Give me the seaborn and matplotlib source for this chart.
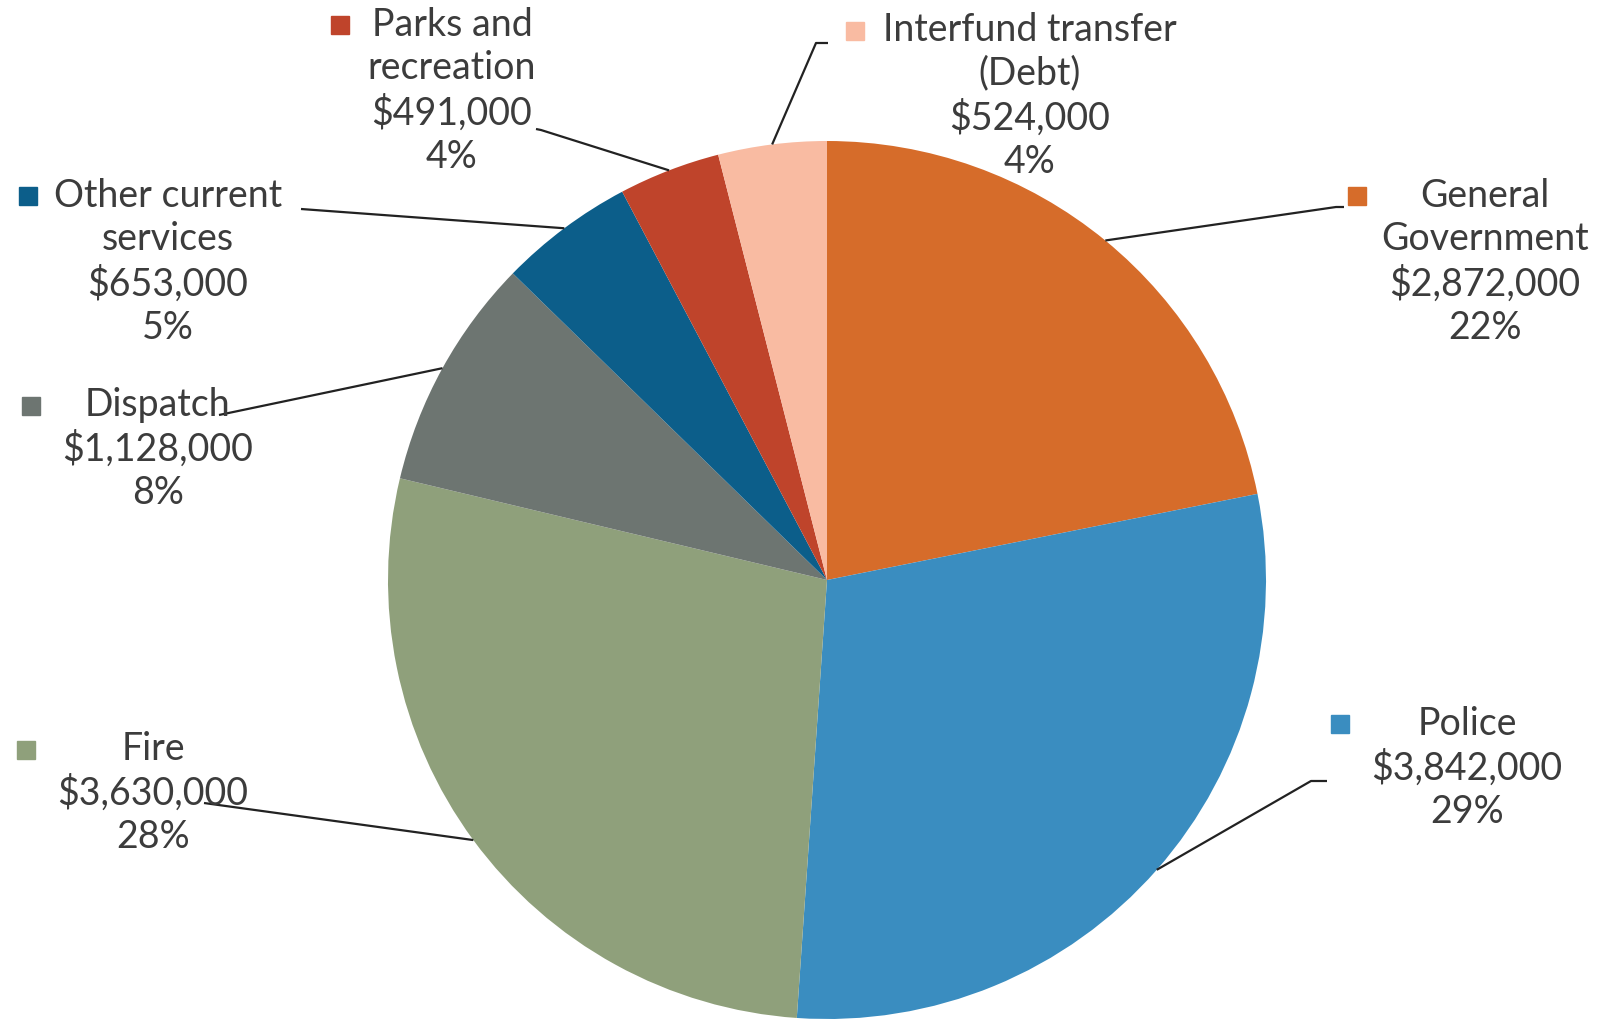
import matplotlib.pyplot as plt
import numpy as np
import seaborn as sns

sns.set_theme(style="white")
plt.rcParams["font.family"] = ["Lato", "DejaVu Sans"]

# budget categories, clockwise from 12 o'clock
categories = ["General\nGovernment", "Police", "Fire", "Dispatch",
              "Other current\nservices", "Parks and\nrecreation",
              "Interfund transfer\n(Debt)"]
amounts = [2872000, 3842000, 3630000, 1128000, 653000, 491000, 524000]
pct_labels = ["22%", "29%", "28%", "8%", "5%", "4%", "4%"]
colors = ["#D66C2A", "#3A8DC0", "#8FA07B", "#6D7571",
          "#0C5E8A", "#BF442B", "#F9BBA2"]

W, H = 1600, 1019
def px(x, y):
    # pixel coords (top-left origin) -> data coords
    return x, H - y

fig = plt.figure(figsize=(16, 10.19), dpi=100)
ax = fig.add_axes([0, 0, 1, 1])

cx, cy = px(827, 580)
r = 439
wedges, _ = ax.pie(amounts, colors=colors, startangle=90, counterclock=False,
                   center=(cx, cy), radius=r, frame=True,
                   wedgeprops=dict(linewidth=0))
ax.set_xlim(0, W)
ax.set_ylim(0, H)
ax.set_aspect("equal")
ax.axis("off")

# label layout: text centre, marker pos, leader knee, leader end
layout = [
    dict(t=(1485, 262), m=(1357, 196), k=(1336, 207), e=(1344, 207)),
    dict(t=(1467, 768), m=(1340, 724), k=(1311, 781), e=(1327, 781)),
    dict(t=(153, 793), m=(26, 750), k=(204, 803), e=(204, 803)),
    dict(t=(158, 449), m=(31, 406), k=(219, 415), e=(219, 415)),
    dict(t=(168, 262), m=(28, 196), k=(301, 209), e=(301, 209)),
    dict(t=(452, 91), m=(340, 25), k=(541, 130), e=(536, 129)),
    dict(t=(1030, 96), m=(855, 31), k=(816, 43), e=(828, 43)),
]

for w, cat, amt, pct, col, lay in zip(wedges, categories, amounts,
                                      pct_labels, colors, layout):
    mid = np.deg2rad((w.theta1 + w.theta2) / 2)
    ex = cx + r * np.cos(mid)
    ey = cy + r * np.sin(mid)
    kx, ky = px(*lay["k"])
    fx, fy = px(*lay["e"])
    ax.plot([ex, kx, fx], [ey, ky, fy], color="#222222", lw=1.6,
            solid_capstyle="butt")
    tx, ty = px(*lay["t"])
    ax.text(tx, ty, f"{cat}\n${amt:,.0f}\n{pct}", ha="center", va="center",
            fontsize=27, color="#3C3C3C", linespacing=1.26)
    mx, my = px(*lay["m"])
    ax.plot(mx, my, marker="s", markersize=13, color=col, linestyle="none")

fig.savefig("out.png", dpi=100)
